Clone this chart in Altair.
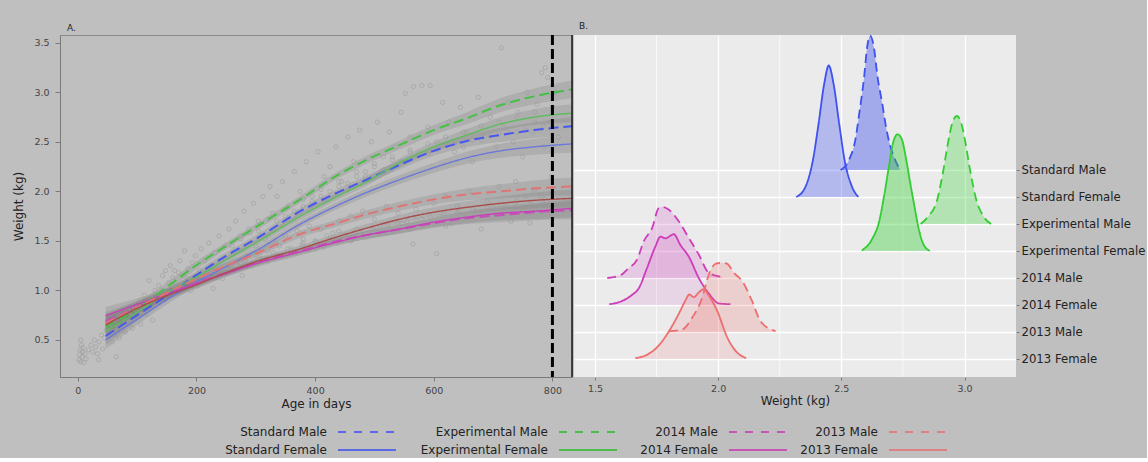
import altair as alt
import pandas as pd

# ---------------- data ----------------
GROUPS = ["Standard Male", "Standard Female", "Experimental Male", "Experimental Female",
          "2014 Male", "2014 Female", "2013 Male", "2013 Female"]
SEX = ["Male", "Female"] * 4

# growth curves (panel A)
CURVE_AGES = [47, 100, 138, 201, 250, 300, 375, 431, 487, 543, 600, 656, 712, 769, 833]
STD_MALE_W = [0.54, 0.75, 0.90, 1.16, 1.35, 1.52, 1.80, 1.97, 2.12, 2.27, 2.41, 2.51, 2.57, 2.62, 2.66]
STD_FEMALE_W = [0.50, 0.71, 0.86, 1.09, 1.24, 1.40, 1.67, 1.84, 1.99, 2.12, 2.24, 2.34, 2.41, 2.45, 2.48]
EXP_MALE_W = [0.63, 0.82, 0.98, 1.26, 1.45, 1.64, 1.92, 2.14, 2.32, 2.47, 2.62, 2.74, 2.87, 2.96, 3.03]
EXP_FEMALE_W = [0.59, 0.78, 0.93, 1.14, 1.31, 1.48, 1.75, 1.93, 2.10, 2.29, 2.45, 2.57, 2.68, 2.75, 2.79]
Y2014_MALE_W = [0.69, 0.83, 0.93, 1.08, 1.18, 1.28, 1.40, 1.49, 1.56, 1.62, 1.68, 1.73, 1.76, 1.79, 1.81]
Y2014_FEMALE_W = [0.745, 0.86, 0.94, 1.07, 1.17, 1.27, 1.39, 1.48, 1.56, 1.62, 1.69, 1.74, 1.78, 1.80, 1.83]
Y2013_MALE_W = [0.67, 0.83, 0.94, 1.12, 1.25, 1.37, 1.57, 1.67, 1.77, 1.85, 1.92, 1.97, 2.00, 2.03, 2.05]
Y2013_FEMALE_W = [0.65, 0.82, 0.92, 1.06, 1.18, 1.29, 1.42, 1.53, 1.63, 1.72, 1.79, 1.84, 1.88, 1.91, 1.93]
CI_HALF = [0.09, 0.06, 0.05, 0.04, 0.035, 0.035, 0.035, 0.035, 0.04, 0.045, 0.05, 0.06, 0.07, 0.08, 0.09]
CURVES = [STD_MALE_W, STD_FEMALE_W, EXP_MALE_W, EXP_FEMALE_W,
          Y2014_MALE_W, Y2014_FEMALE_W, Y2013_MALE_W, Y2013_FEMALE_W]
CUTOFF_AGE = 800

# individual weighings (panel A)
PTS_AGE = [2, 3, 4, 5, 6, 7, 8, 9, 10, 12, 5, 14,
           18, 22, 25, 28, 30, 33, 36, 40, 42, 45, 48, 35,
           52, 55, 58, 60, 63, 66, 70, 72, 75, 78, 80, 84, 86, 90, 92, 95, 98, 65, 100,
           104, 106, 110, 112, 115, 118, 120, 123, 126, 130, 133, 136, 140, 143, 146, 148, 150,
           153, 156, 158, 160, 163, 166, 170, 172, 175, 178, 180, 183, 186, 190, 193, 196, 198,
           202, 205, 208, 211, 214, 218, 221, 224, 228, 231, 234, 238, 241, 244, 248, 251, 255, 258,
           262, 266, 270, 274, 277, 280, 284, 288, 292, 296, 300, 304, 308, 312, 316, 320, 324, 328,
           332, 336, 340, 345, 350, 355, 360, 365, 370, 375, 380, 385, 390, 395, 400, 405, 410, 415, 420,
           425, 430, 435, 440, 445, 450, 455, 460, 465, 470, 475, 480, 485, 490, 495, 500, 505, 510, 515, 520,
           525, 530, 535, 540, 545, 552, 555, 560, 566, 570, 575, 580, 585, 590, 594, 600, 605, 610, 615, 620,
           565, 605,
           625, 630, 635, 640, 645, 650, 655, 660, 665, 670, 675, 680, 685, 690, 695, 700, 705, 710, 714, 718,
           722, 726, 730, 734, 738, 742, 746, 750, 754, 758, 762, 766, 770, 774, 778, 782, 785, 788, 790, 792,
           795, 798, 800, 805, 810,
           260, 280, 300, 320, 340, 360, 380, 400, 420, 440, 460, 480, 500, 520, 540, 560, 580, 600, 620, 640,
           660, 680, 700, 720, 740, 760, 780, 800,
           350, 380, 410, 440, 470, 500, 530, 560, 590, 620, 650, 680, 710, 740, 770, 800,
           150, 162, 174, 186, 198, 210, 222, 234, 246, 258, 270, 282, 294, 306, 318, 330, 342, 354, 366, 378,
           390, 402, 414, 426, 438, 450, 462, 474, 486, 498, 510, 522, 534, 546, 558, 570, 582, 594, 606, 618,
           630, 642, 654, 666, 678, 690, 702, 714, 726, 738, 750, 762, 774, 786, 798,
           260, 275, 290, 305, 320, 335, 350, 365, 380, 395, 410, 425, 440, 455, 470, 485, 500, 515, 530, 545,
           560, 575, 590, 605, 620, 635, 650, 665, 680, 695, 710, 725, 740, 755, 770, 785, 800,
           55, 62, 68, 76, 82, 88, 94, 102, 108, 114, 122, 128, 134, 142]
PTS_W = [0.30, 0.35, 0.40, 0.28, 0.45, 0.33, 0.38, 0.42, 0.27, 0.36, 0.50, 0.31,
         0.40, 0.45, 0.38, 0.50, 0.43, 0.36, 0.48, 0.55, 0.41, 0.52, 0.60, 0.30,
         0.56, 0.62, 0.48, 0.70, 0.58, 0.66, 0.52, 0.75, 0.63, 0.70, 0.58, 0.80, 0.68, 0.74, 0.62, 0.85, 0.72, 0.33, 0.78,
         0.90, 0.66, 0.82, 0.95, 0.76, 0.88, 1.10, 0.93, 0.70, 1.00, 0.86, 1.05, 0.95, 1.15, 0.90, 1.20, 1.00,
         1.08, 1.25, 0.96, 1.13, 1.20, 1.02, 1.18, 1.30, 1.06, 1.15, 1.40, 1.10, 1.22, 1.00, 1.28, 1.12, 1.35,
         1.05, 1.20, 1.42, 1.15, 1.30, 1.10, 1.48, 1.25, 1.02, 1.38, 1.18, 1.55, 1.30, 1.12, 1.45, 1.25, 1.62, 1.20,
         1.38, 1.70, 1.28, 1.55, 1.15, 1.80, 1.35, 1.62, 1.25, 1.88, 1.45, 1.70, 1.32, 1.95, 1.52, 1.40, 2.05, 1.78,
         1.48, 1.95, 1.35, 2.10, 1.55, 1.85, 1.42, 2.20, 1.60, 2.00, 1.48, 2.30, 1.65, 1.95, 1.50, 2.40, 1.62, 2.15, 1.55,
         2.25, 1.58, 2.45, 1.70, 2.10, 1.52, 2.55, 1.75, 2.30, 1.62, 2.62, 1.80, 2.20, 1.58, 2.50, 1.72, 2.70, 1.65, 2.35, 1.85,
         2.60, 1.60, 2.45, 1.78, 2.80, 2.99, 1.70, 2.55, 3.06, 1.82, 2.38, 3.07, 1.65, 2.65, 3.07, 1.88, 2.50, 1.75, 2.90, 1.95,
         1.47, 1.37,
         2.70, 1.68, 2.40, 1.85, 2.85, 1.72, 2.60, 2.00, 2.30, 1.80, 2.95, 1.62, 2.55, 1.90, 2.75, 1.75, 2.45, 2.05, 3.45, 2.65,
         1.85, 2.90, 1.70, 2.50, 2.10, 2.80, 1.78, 2.35, 1.95, 3.00, 1.68, 2.60, 2.02, 2.88, 1.82, 3.20, 2.45, 3.25, 1.90, 3.15,
         2.70, 2.15, 1.75, 3.00, 2.55,
         1.22, 1.30, 1.35, 1.30, 1.45, 1.38, 1.52, 1.42, 1.48, 1.60, 1.50, 1.55, 1.60, 1.58, 1.68, 1.62, 1.72, 1.70, 1.65, 1.78,
         1.72, 1.80, 1.84, 1.78, 1.90, 1.82, 1.95, 1.88,
         1.75, 1.85, 1.95, 2.05, 2.15, 2.25, 2.32, 2.40, 2.38, 2.48, 2.45, 2.52, 2.58, 2.60, 2.70, 2.65,
         0.98, 1.05, 1.02, 1.12, 1.08, 1.15, 1.12, 1.22, 1.17, 1.25, 1.22, 1.30, 1.26, 1.35, 1.30, 1.38, 1.34, 1.42, 1.37, 1.46,
         1.41, 1.49, 1.44, 1.52, 1.48, 1.56, 1.51, 1.59, 1.54, 1.62, 1.57, 1.66, 1.60, 1.68, 1.63, 1.71, 1.66, 1.74, 1.69, 1.77,
         1.72, 1.80, 1.74, 1.82, 1.77, 1.84, 1.79, 1.86, 1.80, 1.88, 1.83, 1.90, 1.84, 1.92, 1.86,
         1.45, 1.52, 1.58, 1.60, 1.72, 1.70, 1.82, 1.80, 1.92, 1.90, 2.02, 2.00, 2.10, 2.08, 2.20, 2.15, 2.28, 2.22, 2.35, 2.30,
         2.42, 2.36, 2.48, 2.42, 2.55, 2.48, 2.60, 2.52, 2.66, 2.56, 2.70, 2.60, 2.75, 2.62, 2.80, 2.66, 2.85,
         0.66, 0.55, 0.72, 0.60, 0.66, 0.78, 0.70, 0.84, 0.76, 0.88, 0.82, 0.94, 0.90, 1.00]

# weight distributions at cut-off (panel B); rows listed bottom-up
ROWS_BOTTOM_UP = ["2013 Female", "2013 Male", "2014 Female", "2014 Male",
                  "Experimental Female", "Experimental Male", "Standard Female", "Standard Male"]
RIDGE_W = {
    "Standard Male": [2.497, 2.531, 2.558, 2.572, 2.592, 2.606, 2.617, 2.633, 2.646, 2.667, 2.680, 2.694, 2.715, 2.739],
    "Standard Female": [2.317, 2.355, 2.385, 2.408, 2.431, 2.449, 2.468, 2.491, 2.513, 2.543, 2.569],
    "Experimental Male": [2.822, 2.852, 2.889, 2.912, 2.935, 2.950, 2.969, 2.987, 3.002, 3.025, 3.048, 3.078, 3.108],
    "Experimental Female": [2.583, 2.626, 2.653, 2.674, 2.694, 2.709, 2.728, 2.745, 2.765, 2.780, 2.795, 2.814, 2.829, 2.859],
    "2014 Male": [1.550, 1.603, 1.637, 1.671, 1.698, 1.732, 1.759, 1.772, 1.800, 1.840, 1.881, 1.922, 1.962, 2.016],
    "2014 Female": [1.558, 1.596, 1.650, 1.678, 1.711, 1.745, 1.766, 1.786, 1.820, 1.847, 1.881, 1.922, 1.962, 2.003, 2.050],
    "2013 Male": [1.800, 1.854, 1.894, 1.935, 1.962, 1.989, 2.016, 2.037, 2.064, 2.098, 2.138, 2.172, 2.233],
    "2013 Female": [1.664, 1.718, 1.759, 1.806, 1.840, 1.867, 1.883, 1.901, 1.922, 1.942, 1.962, 1.996, 2.037, 2.070, 2.114],
}
RIDGE_H = {
    "Standard Male": [0.0, 0.37, 1.17, 2.04, 3.40, 4.63, 4.98, 4.50, 3.52, 2.41, 1.67, 1.05, 0.45, 0.0],
    "Standard Female": [0.0, 0.39, 1.38, 2.74, 4.22, 4.87, 4.22, 2.74, 1.38, 0.39, 0.0],
    "Experimental Male": [0.0, 0.27, 0.89, 1.88, 3.10, 3.73, 4.00, 3.73, 3.10, 1.88, 0.89, 0.27, 0.0],
    "Experimental Female": [0.02, 0.46, 1.07, 2.06, 3.17, 3.97, 4.32, 4.15, 3.30, 2.50, 1.75, 0.83, 0.34, 0.0],
    "2014 Male": [0.0, 0.10, 0.37, 0.68, 1.36, 1.85, 2.59, 2.63, 2.53, 2.10, 1.48, 0.86, 0.19, 0.04],
    "2014 Female": [0.03, 0.10, 0.37, 0.62, 1.36, 2.16, 2.53, 2.47, 2.62, 2.22, 1.79, 0.99, 0.43, 0.06, 0.03],
    "2013 Male": [0.03, 0.09, 0.52, 1.26, 2.12, 2.52, 2.56, 2.52, 2.19, 1.88, 1.14, 0.40, 0.03],
    "2013 Female": [0.03, 0.19, 0.50, 1.11, 1.67, 2.16, 2.39, 2.29, 2.47, 2.59, 2.35, 1.79, 0.80, 0.31, 0.03],
}
B_TICKS = [1.5, 2.0, 2.5, 3.0]
B_MINOR = [1.75, 2.25, 2.75]

# legend layout
LEG_COL = [0, 0, 1, 1, 2, 2, 3, 3]
LEG_ROW = [0, 1] * 4

# ---------------- styles ----------------
FONT = "DejaVu Sans"
BG = "#bfbfbf"
A_LINE_COLORS = ["#4757ee", "#6b78d8", "#45c045", "#5cbc5c", "#c451b4", "#c93fba", "#e07474", "#a84c4c"]
B_LINE_COLORS = ["#3f51ee", "#3f51ee", "#33cc33", "#33cc33", "#cc3cbb", "#cc3cbb", "#ec6e6e", "#ec6e6e"]
B_FILL_OPAC = [0.42, 0.32, 0.30, 0.38, 0.2, 0.12, 0.22, 0.16]
LEG_COLORS = ["#5a69e6", "#5a69e6", "#4cbb4c", "#4cbb4c", "#c655b6", "#c655b6", "#e08080", "#e08080"]

X_A = [-30, 833]
Y_A = [0.126, 3.58]
X_B = [1.415, 3.209]
Y_B = [-0.667, 12.0]

# ---------------- panel A ----------------
rows = []
for g, s, ws in zip(GROUPS, SEX, CURVES):
    for a, w, h in zip(CURVE_AGES, ws, CI_HALF):
        rows.append({"group": g, "sex": s, "age": a, "w": w, "lo": w - h, "hi": w + h})
curves_df = pd.DataFrame(rows)
pts_df = pd.DataFrame({"age": PTS_AGE, "w": PTS_W})

xA = alt.X("age:Q", scale=alt.Scale(domain=X_A, nice=False, zero=False),
           axis=alt.Axis(values=[0, 200, 400, 600, 800], title="Age in days", grid=False,
                         domainColor="#7a7a7a", tickColor="#7a7a7a", tickSize=4,
                         labelFontSize=9.5, labelColor="#444", labelPadding=4,
                         titleFontSize=12, titleFontWeight="normal", titleColor="#222", titlePadding=4))
yA_axis = alt.Axis(values=[0.5, 1.0, 1.5, 2.0, 2.5, 3.0, 3.5], format=".1f", title="Weight (kg)", grid=False,
                   domainColor="#7a7a7a", tickColor="#7a7a7a", tickSize=5,
                   labelFontSize=9.5, labelColor="#444", labelPadding=6,
                   titleFontSize=12, titleFontWeight="normal", titleColor="#222", titlePadding=8)
yA_scale = alt.Scale(domain=Y_A, nice=False, zero=False)

bands = alt.Chart(curves_df).mark_area(color="#707070", opacity=0.22, interpolate="monotone", clip=True).encode(
    x=xA, y=alt.Y("lo:Q", scale=yA_scale, axis=yA_axis), y2="hi:Q", detail="group:N")

points = alt.Chart(pts_df).mark_point(shape="circle", filled=False, color="#9d9d9d", size=18,
                                      strokeWidth=0.9, clip=True).encode(
    x=xA, y=alt.Y("w:Q", scale=yA_scale, axis=yA_axis))

lines = alt.Chart(curves_df).mark_line(interpolate="monotone", clip=True).encode(
    x=xA, y=alt.Y("w:Q", scale=yA_scale, axis=yA_axis),
    color=alt.Color("group:N", scale=alt.Scale(domain=GROUPS, range=A_LINE_COLORS), legend=None),
    strokeDash=alt.StrokeDash("sex:N", scale=alt.Scale(domain=["Male", "Female"], range=[[10, 5], [1, 0]]),
                              legend=None),
    strokeWidth=alt.StrokeWidth("sex:N", scale=alt.Scale(domain=["Male", "Female"], range=[2.0, 1.4]), legend=None),
    detail="group:N")

cutoff = alt.Chart(pd.DataFrame({"age": [CUTOFF_AGE]})).mark_rule(
    color="black", strokeWidth=3, strokeDash=[10, 4]).encode(x=xA)
edge = alt.Chart(pd.DataFrame({"age": [X_A[1]]})).mark_rule(color="#1a1a1a", strokeWidth=1.5).encode(x=xA)

panelA = alt.layer(bands, points, lines, cutoff, edge).properties(
    width=512, height=342,
    view=alt.ViewBackground(stroke="#8a8a8a", strokeWidth=1),
    title=alt.TitleParams("A.", anchor="start", frame="group", fontSize=9, fontWeight="normal",
                          color="#222", dx=7, offset=1))

# ---------------- panel B ----------------
label_expr = "[" + ",".join("'%s'" % r for r in ROWS_BOTTOM_UP) + "][datum.value]"
xB = alt.X("w:Q", scale=alt.Scale(domain=X_B, nice=False, zero=False),
           axis=alt.Axis(values=B_TICKS, format=".1f", title="Weight (kg)", grid=True, gridColor="white",
                         gridWidth=1.3, domain=False, tickColor="#7a7a7a", tickSize=3,
                         labelFontSize=9.5, labelColor="#444", labelPadding=3,
                         titleFontSize=12, titleFontWeight="normal", titleColor="#222", titlePadding=3))
yB = alt.Y("top:Q", scale=alt.Scale(domain=Y_B, nice=False, zero=False),
           axis=alt.Axis(orient="right", values=list(range(len(ROWS_BOTTOM_UP))), labelExpr=label_expr,
                         title=None, grid=True, gridColor="white", gridWidth=1.3, domain=False,
                         tickColor="#7a7a7a", tickSize=3, labelFontSize=11.7, labelColor="#222",
                         labelPadding=2))

minor = alt.Chart(pd.DataFrame({"w": B_MINOR})).mark_rule(color="white", strokeWidth=0.7).encode(x=xB)

ridge_layers = [minor]
for g in GROUPS:  # top row first, lower rows drawn over it
    i = GROUPS.index(g)
    base = ROWS_BOTTOM_UP.index(g)
    df = pd.DataFrame({"w": RIDGE_W[g], "h": RIDGE_H[g]})
    df["base"] = base
    df["top"] = df["base"] + df["h"]
    area = alt.Chart(df).mark_area(interpolate="monotone", color=B_LINE_COLORS[i],
                                   opacity=B_FILL_OPAC[i]).encode(x=xB, y=yB, y2="base:Q")
    line = alt.Chart(df).mark_line(interpolate="monotone", color=B_LINE_COLORS[i], strokeWidth=1.8,
                                   strokeDash=([9, 5] if SEX[i] == "Male" else [1, 0])).encode(x=xB, y=yB)
    ridge_layers += [area, line]

panelB = alt.layer(*ridge_layers).properties(
    width=442, height=342,
    view=alt.ViewBackground(fill="#ebebeb", stroke=None),
    title=alt.TitleParams("B.", anchor="start", frame="group", fontSize=9, fontWeight="normal",
                          color="#222", dx=5, offset=1))

# ---------------- legend ----------------
leg_df = pd.DataFrame({"label": GROUPS, "col": LEG_COL, "row": LEG_ROW, "sex": SEX})
LEG_X_PX = [270, 491, 661, 821]
lx = alt.X("col:Q", scale=alt.Scale(domain=[0, 1, 2, 3], range=LEG_X_PX), axis=None)
ly = alt.Y("row:Q", scale=alt.Scale(domain=[0, 1], range=[0, 18]), axis=None)
leg_text = alt.Chart(leg_df).mark_text(align="right", baseline="middle", fontSize=12, color="#222",
                                       dx=-3).encode(x=lx, y=ly, text="label:N")
leg_line = alt.Chart(leg_df).mark_rule(strokeWidth=2, xOffset=8, x2Offset=66).encode(
    x=lx, x2="col:Q", y=ly,
    color=alt.Color("label:N", scale=alt.Scale(domain=GROUPS, range=LEG_COLORS), legend=None),
    strokeDash=alt.StrokeDash("sex:N", scale=alt.Scale(domain=["Male", "Female"], range=[[8, 8], [1, 0]]),
                              legend=None))
legend = alt.layer(leg_text, leg_line).properties(width=1000, height=18,
                                                  view=alt.ViewBackground(stroke=None))

chart = alt.vconcat(alt.hconcat(panelA, panelB, spacing=0), legend, spacing=16).resolve_scale(
    color="independent", strokeDash="independent", strokeWidth="independent"
).configure(
    background=BG, font=FONT, padding={"left": 12, "top": 21, "right": 2, "bottom": 2}
).configure_view(stroke=None)

chart.save("out.html", embed_options={"renderer": "svg", "actions": False})
